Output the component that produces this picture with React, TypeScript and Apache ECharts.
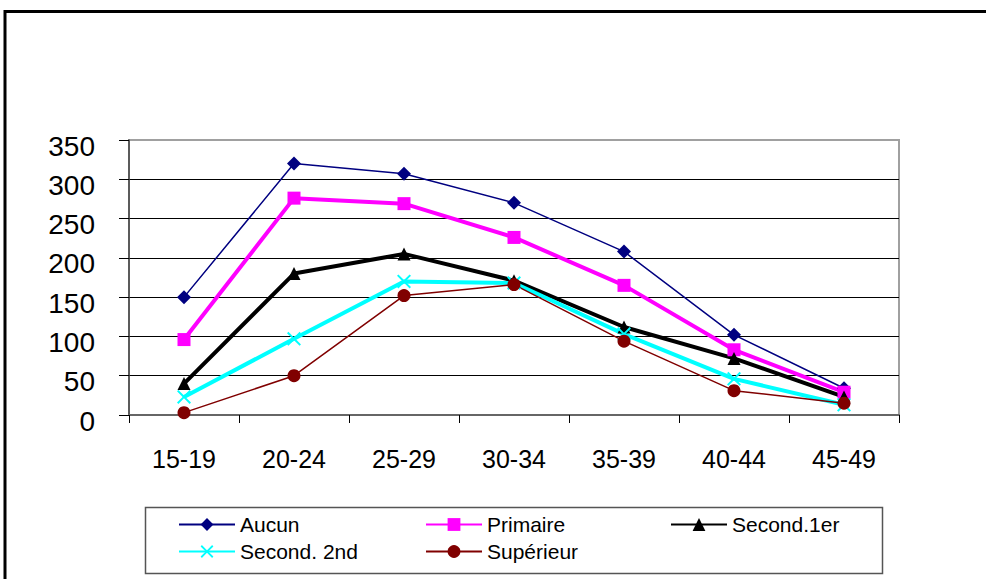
import React, { useEffect, useRef } from "react";
import * as echarts from "echarts";

const categories = ["15-19", "20-24", "25-29", "30-34", "35-39", "40-44", "45-49"];
const aucun = [150, 320, 307, 270, 208, 102, 34];
const primaire = [96, 276, 269, 226, 165, 83, 29];
const second1er = [40, 180, 205, 171, 112, 72, 23];
const second2nd = [23, 97, 170, 168, 103, 46, 13];
const superieur = [3, 50, 152, 166, 94, 31, 15];
const seriesNames = ["Aucun", "Primaire", "Second.1er", "Second. 2nd", "Supérieur"];

const FONT = 'Arial, "Liberation Sans", sans-serif';
const XSHAPE =
  "path://M0,1 L1,0 L5,4 L9,0 L10,1 L6,5 L10,9 L9,10 L5,6 L1,10 L0,9 L4,5 Z";

export default function App() {
  const ref = useRef<HTMLDivElement>(null);
  useEffect(() => {
    if (!ref.current) return;
    const chart = echarts.init(ref.current, undefined, { renderer: "svg" });
    const legendPos = [
      { left: 178, top: 514 },
      { left: 425, top: 514 },
      { left: 670, top: 514 },
      { left: 178, top: 541 },
      { left: 425, top: 541 },
    ];
    const splitColors = ["rgba(0,0,0,0)", "#000", "#000", "#000", "#000", "#000", "#000", "rgba(0,0,0,0)"];
    chart.setOption({
      animation: false,
      backgroundColor: "#fff",
      textStyle: { fontFamily: FONT },
      grid: {
        left: 129,
        top: 140,
        width: 770,
        height: 275,
        show: true,
        borderColor: "#a0a0a0",
        borderWidth: 2,
        backgroundColor: "transparent",
      },
      legend: seriesNames.map((n, i) => ({
        data: [n],
        left: legendPos[i].left,
        top: legendPos[i].top,
        orient: "horizontal",
        padding: 0,
        itemWidth: 56,
        itemHeight: 16,
        itemGap: 5,
        selectedMode: false,
        textStyle: { fontFamily: FONT, fontSize: 21, color: "#000" },
      })),
      xAxis: {
        type: "category",
        data: categories,
        boundaryGap: true,
        axisLine: { show: true, lineStyle: { color: "#666", width: 2 } },
        axisTick: { show: true, length: 8, lineStyle: { color: "#000", width: 1 } },
        axisLabel: { fontFamily: FONT, fontSize: 25, color: "#000", margin: 31 },
        splitLine: { show: false },
      },
      yAxis: {
        type: "value",
        min: 0,
        max: 350,
        interval: 50,
        axisLine: { show: true, lineStyle: { color: "#444", width: 1.5 } },
        axisTick: { show: true, length: 10, lineStyle: { color: "#000", width: 1 } },
        axisLabel: {
          fontFamily: FONT,
          fontSize: 28,
          color: "#000",
          margin: 34,
          formatter: "{a|{value}}",
          rich: {
            a: {
              fontFamily: FONT,
              fontSize: 28,
              color: "#000",
              padding: [12, 0, 0, 0],
            },
          },
        },
        splitLine: { show: true, lineStyle: { color: splitColors, width: 1 } },
      },
      series: [
        {
          name: "Aucun",
          type: "line",
          data: aucun,
          symbol: "diamond",
          symbolSize: [14, 14],
          lineStyle: { color: "#000080", width: 1.5 },
          itemStyle: { color: "#000080" },
        },
        {
          name: "Primaire",
          type: "line",
          data: primaire,
          symbol: "rect",
          symbolSize: 13,
          lineStyle: { color: "#ff00ff", width: 4 },
          itemStyle: { color: "#ff00ff" },
        },
        {
          name: "Second.1er",
          type: "line",
          data: second1er,
          symbol: "triangle",
          symbolSize: 13,
          lineStyle: { color: "#000", width: 4 },
          itemStyle: { color: "#000" },
        },
        {
          name: "Second. 2nd",
          type: "line",
          data: second2nd,
          symbol: XSHAPE,
          symbolSize: 14,
          lineStyle: { color: "#00ffff", width: 4 },
          itemStyle: { color: "#00ffff" },
        },
        {
          name: "Supérieur",
          type: "line",
          data: superieur,
          symbol: "circle",
          symbolSize: 13,
          lineStyle: { color: "#800000", width: 1.5 },
          itemStyle: { color: "#800000" },
        },
      ],
      graphic: [
        {
          type: "rect",
          shape: { x: 5, y: 11.5, width: 1100, height: 700 },
          style: { fill: "none", stroke: "#000", lineWidth: 3 },
          silent: true,
          z: -1,
        },
        {
          type: "rect",
          shape: { x: 145.5, y: 507.5, width: 737, height: 66 },
          style: { fill: "none", stroke: "#555", lineWidth: 1.5 },
          silent: true,
          z: -1,
        },
      ],
    });
    return () => chart.dispose();
  }, []);
  return (
    <div
      ref={ref}
      style={{ position: "fixed", left: 0, top: 0, width: 986, height: 579 }}
    />
  );
}
